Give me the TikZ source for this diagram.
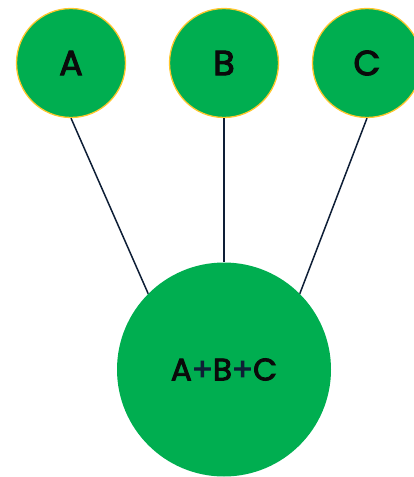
\documentclass[tikz,border=0pt]{standalone}
\usepackage{fontspec}
\setmainfont{Poppins}
\newfontfamily\medfont{Poppins}[FakeBold=3]
\definecolor{leafgreen}{HTML}{00AE50}
\definecolor{ringgold}{HTML}{FFC72C}
\definecolor{navyline}{HTML}{0E1E36}
\definecolor{inkblack}{HTML}{0A0A0A}
\begin{document}
\begin{tikzpicture}[x=1pt,y=-1pt,
  smallball/.style={circle,fill=leafgreen,draw=ringgold,line width=1.3pt,minimum size=109pt,inner sep=0pt,text=inkblack,font=\medfont\fontsize{35}{35}\selectfont},
  bigball/.style={circle,fill=leafgreen,minimum size=214pt,inner sep=0pt,text=inkblack,font=\medfont\fontsize{31}{31}\selectfont},
  link/.style={draw=navyline,line width=1.5pt}]
\useasboundingbox (0,0) rectangle (414,477);
\node[smallball] (A) at (71,63) {A};
\node[smallball] (B) at (224,63) {B};
\node[smallball] (C) at (367,63) {C};
\node[bigball] (S) at (224,369.5) {A\textcolor{navyline}{+}B\textcolor{navyline}{+}C};
\draw[link] (A.south) -- (S.135);
\draw[link] (B.south) -- (S.90);
\draw[link] (C.south) -- (S.45);
\end{tikzpicture}
\end{document}
